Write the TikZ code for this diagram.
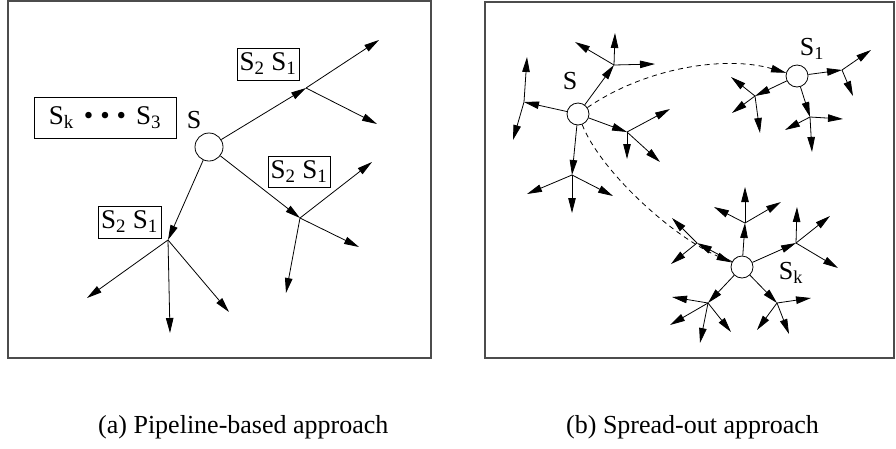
\documentclass[tikz,border=0pt]{standalone}
\usepackage{fontspec}
\setmainfont{Liberation Serif}
\usetikzlibrary{arrows.meta}

\tikzset{
  hop/.style={-{Triangle[length=15pt,width=7.5pt]}, line width=0.8pt},
  link/.style={hop, dash pattern={on 5pt off 4pt}},
  peer/.style={circle, draw, line width=0.8pt, minimum size=22pt, inner sep=0pt},
  msg/.style={draw, line width=0.8pt, inner sep=0pt, font=\fontsize{27}{29}\selectfont},
  lbl/.style={inner sep=0.75pt, font=\fontsize{26}{28}\selectfont},
  captext/.style={inner sep=0pt, anchor=base west, font=\fontsize{26}{29}\selectfont},
  panel/.style={draw=black!70, line width=1.3pt},
}

\begin{document}
\begin{tikzpicture}[x=1pt,y=1pt,yscale=-1]
\useasboundingbox (0,0) rectangle (896,448);

% ---------------- (a) pipeline ----------------
\draw[panel] (8,1) rectangle (431,358);

\node[peer, minimum size=28pt] (src) at (209,147) {};
% Text Node
\node[lbl] (srcl) at (194,120) {S};

% relay points
\coordinate (a1) at (306,88);
\coordinate (a2) at (300,218);
\coordinate (a3) at (168,240);
\foreach \n/\x/\y in {a11/379/40, a12/377/124,
                      a21/372/162, a22/359/247, a23/286/293,
                      a31/87/298, a32/170/333, a33/229/312}
  \coordinate (\n) at (\x,\y);

\foreach \j in {a1,a2,a3}
  \draw[hop] (src) -- (\j);
\foreach \a/\b in {a1/a11, a1/a12, a2/a21, a2/a22, a2/a23, a3/a31, a3/a32, a3/a33}
  \draw[hop] (\a) -- (\b);

% queued messages
\node[msg, minimum width=142pt, minimum height=41pt] (queue) at (105,117.5)
  {S\textsubscript{k}\hspace{10pt}\textbullet\hspace{7pt}\textbullet\hspace{7pt}\textbullet\hspace{10pt}S\textsubscript{3}};
\node[msg, minimum width=62pt, minimum height=32pt] (m1) at (268,64) {S\textsubscript{2} S\textsubscript{1}};
\node[msg, minimum width=62pt, minimum height=31pt] (m2) at (299,171.5) {S\textsubscript{2} S\textsubscript{1}};
\node[msg, minimum width=63pt, minimum height=32pt] (m3) at (129.5,222) {S\textsubscript{2} S\textsubscript{1}};

% ---------------- (b) spread-out ----------------
\draw[panel] (485,2) rectangle (894,358);

\node[peer] (S) at (578,114) {};
\node[peer] (S1) at (797,76) {};
\node[peer] (Sk) at (742,267) {};
% Text Node
\node[lbl] (Sl) at (570,81) {S};
\node[lbl] (S1l) at (812,49) {S\textsubscript{1}};
\node[lbl] (Skl) at (791,273) {S\textsubscript{k}};

% relay points
\foreach \n/\x/\y in {b1/614/65, b2/524/102, b3/627/132, b4/572/175,
                      c1/842/70, c2/755/96, c3/810/117,
                      d1/745/223, d2/796/243, d3/697/243, d4/708/303, d5/777/303}
  \coordinate (\n) at (\x,\y);
% end points
\foreach \n/\x/\y in {b11/615/33, b12/655/64, b13/575/42,
                      b21/527/57, b22/513/140,
                      b31/670/109, b32/627/159, b33/660/162,
                      b41/527/194, b42/572/213, b43/613/196,
                      c11/871/50, c12/853/96,
                      c21/731/77, c22/732/113, c23/760/133,
                      c31/785/130, c32/843/119, c33/812/152,
                      d11/745/187, d12/714/207, d13/781/202,
                      d21/797/207, d22/830/216, d23/838/268,
                      d31/672/218, d32/671/264,
                      d41/672/297, d42/670/325, d43/700/343, d44/731/332,
                      d51/811/298, d52/757/330, d53/789/334}
  \coordinate (\n) at (\x,\y);

\foreach \a/\b in {S/b1, S/b2, S/b3, S/b4,
                   S1/c1, S1/c2, S1/c3,
                   Sk/d1, Sk/d2, Sk/d3, Sk/d4, Sk/d5}
  \draw[hop] (\a) -- (\b);
\foreach \a/\b in {b1/b11, b1/b12, b1/b13, b2/b21, b2/b22,
                   b3/b31, b3/b32, b3/b33, b4/b41, b4/b42, b4/b43,
                   c1/c11, c1/c12, c2/c21, c2/c22, c2/c23, c3/c31, c3/c32, c3/c33,
                   d1/d11, d1/d12, d1/d13, d2/d21, d2/d22, d2/d23, d3/d31, d3/d32,
                   d4/d41, d4/d42, d4/d43, d4/d44, d5/d51, d5/d52, d5/d53}
  \draw[hop] (\a) -- (\b);

% long jumps
\draw[link] (S) .. controls (645,68) and (725,55) .. (S1);
\draw[link] (S) .. controls (600,170) and (670,235) .. (Sk);

% captions
\node[captext] (capa) at (98,433) {(a) Pipeline-based approach};
\node[captext] (capb) at (566,433) {(b) Spread-out approach};
\end{tikzpicture}
\end{document}
